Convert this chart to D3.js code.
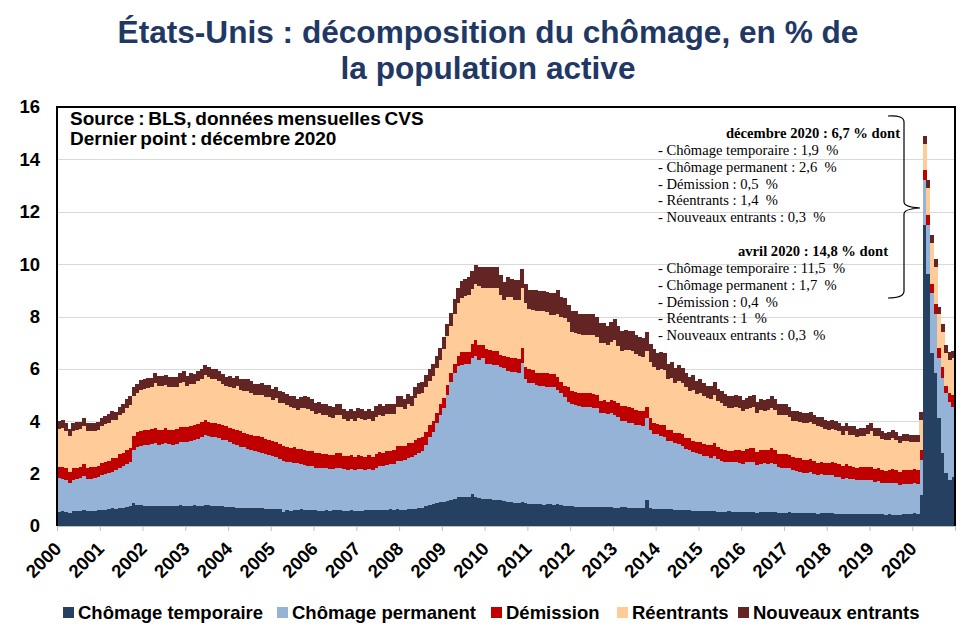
<!DOCTYPE html>
<html><head><meta charset="utf-8">
<script src="https://cdn.jsdelivr.net/npm/d3@7"></script>
<style>body{margin:0;background:#fff}</style>
</head><body><svg id="c" width="977" height="637"></svg>
<script>
const years = [2000,2001,2002,2003,2004,2005,2006,2007,2008,2009,2010,2011,2012,2013,2014,2015,2016,2017,2018,2019,2020];
const seriesLabels = ["Chômage temporaire","Chômage permanent","Démission","Réentrants","Nouveaux entrants"];
const seriesColors = ["#254061","#95B3D7","#C00000","#FFCC99","#632523"];
const yTicks = [0,2,4,6,8,10,12,14,16];

const temporaire = [
0.55,0.56,0.54,0.50,0.56,0.57,0.58,0.60,0.56,0.57,0.58,0.60,
0.62,0.62,0.64,0.68,0.66,0.70,0.70,0.74,0.76,0.88,0.82,0.80,
0.78,0.76,0.78,0.77,0.75,0.76,0.78,0.77,0.76,0.78,0.80,0.77,
0.77,0.78,0.79,0.76,0.78,0.82,0.80,0.78,0.77,0.76,0.75,0.74,
0.72,0.72,0.70,0.70,0.69,0.70,0.68,0.68,0.67,0.68,0.65,0.66,
0.66,0.66,0.64,0.55,0.60,0.58,0.62,0.62,0.64,0.62,0.60,0.60,
0.60,0.58,0.58,0.60,0.57,0.60,0.61,0.60,0.58,0.59,0.60,0.58,
0.58,0.59,0.60,0.62,0.60,0.61,0.62,0.62,0.63,0.64,0.62,0.65,
0.62,0.63,0.65,0.66,0.66,0.67,0.67,0.75,0.80,0.85,0.88,0.93,
0.93,0.95,1.00,1.05,1.10,1.12,1.12,1.10,1.22,1.10,1.08,1.05,
1.03,1.02,1.00,0.98,1.00,0.95,0.92,0.90,0.88,0.88,0.92,0.86,
0.85,0.84,0.85,0.85,0.82,0.85,0.84,0.82,0.84,0.80,0.78,0.76,
0.75,0.74,0.74,0.73,0.72,0.74,0.72,0.72,0.71,0.72,0.73,0.72,
0.70,0.70,0.72,0.72,0.70,0.69,0.68,0.68,0.67,0.99,0.67,0.66,
0.66,0.65,0.65,0.64,0.64,0.62,0.63,0.62,0.60,0.60,0.59,0.58,
0.58,0.57,0.58,0.56,0.57,0.55,0.55,0.54,0.56,0.55,0.54,0.54,
0.53,0.55,0.54,0.52,0.51,0.52,0.55,0.53,0.52,0.52,0.50,0.51,
0.50,0.52,0.51,0.49,0.50,0.48,0.49,0.48,0.48,0.47,0.48,0.49,
0.48,0.49,0.47,0.47,0.46,0.47,0.46,0.47,0.45,0.46,0.46,0.45,
0.45,0.44,0.45,0.44,0.43,0.44,0.42,0.43,0.42,0.44,0.45,0.46,
0.48,0.47,1.20,11.50,9.64,6.59,5.83,4.12,2.78,2.01,1.76,1.88];

const permanent = [
1.27,1.25,1.22,1.14,1.20,1.22,1.24,1.30,1.22,1.24,1.27,1.28,
1.33,1.36,1.38,1.40,1.46,1.52,1.58,1.62,1.70,2.02,2.20,2.26,
2.30,2.33,2.34,2.40,2.36,2.36,2.38,2.35,2.34,2.36,2.40,2.44,
2.45,2.47,2.50,2.58,2.62,2.65,2.62,2.62,2.61,2.59,2.55,2.54,
2.48,2.43,2.40,2.33,2.31,2.25,2.24,2.20,2.17,2.12,2.10,2.04,
2.00,1.96,1.92,1.93,1.86,1.85,1.80,1.77,1.72,1.72,1.70,1.68,
1.62,1.64,1.63,1.60,1.60,1.58,1.62,1.60,1.58,1.55,1.57,1.55,
1.60,1.58,1.55,1.57,1.55,1.62,1.68,1.66,1.70,1.72,1.75,1.85,
1.88,1.89,1.95,1.96,2.04,2.11,2.18,2.35,2.60,2.75,3.04,3.31,
3.57,4.05,4.50,4.78,5.00,5.03,5.06,5.08,5.18,5.39,5.27,5.35,
5.17,5.16,5.15,5.17,5.08,5.07,5.00,4.99,5.00,4.97,5.29,4.76,
4.62,4.61,4.53,4.51,4.52,4.47,4.48,4.48,4.35,4.26,4.16,3.99,
3.90,3.88,3.85,3.82,3.84,3.82,3.80,3.78,3.62,3.60,3.55,3.58,
3.55,3.45,3.30,3.28,3.25,3.25,3.18,3.17,3.15,3.12,3.00,2.85,
2.85,2.80,2.75,2.62,2.60,2.55,2.50,2.45,2.35,2.30,2.25,2.20,
2.18,2.12,2.08,2.05,2.10,2.00,1.95,1.92,1.90,1.88,1.90,1.86,
1.85,1.88,1.90,1.92,1.82,1.85,1.84,1.82,1.88,1.85,1.75,1.72,
1.72,1.70,1.62,1.60,1.58,1.55,1.55,1.57,1.52,1.48,1.50,1.45,
1.45,1.46,1.42,1.42,1.35,1.38,1.34,1.32,1.30,1.30,1.28,1.30,
1.30,1.25,1.25,1.22,1.20,1.22,1.24,1.20,1.15,1.18,1.15,1.15,
1.15,1.15,1.33,1.70,1.87,2.29,2.26,2.29,2.86,3.05,2.99,2.65];

const demission = [
0.44,0.45,0.46,0.44,0.46,0.44,0.45,0.47,0.45,0.44,0.42,0.43,
0.45,0.46,0.48,0.50,0.49,0.52,0.50,0.53,0.52,0.55,0.56,0.58,
0.58,0.56,0.57,0.58,0.57,0.56,0.57,0.55,0.56,0.55,0.57,0.58,
0.56,0.57,0.55,0.57,0.56,0.58,0.56,0.55,0.56,0.55,0.54,0.52,
0.55,0.56,0.58,0.58,0.57,0.58,0.56,0.57,0.58,0.60,0.58,0.57,
0.58,0.60,0.57,0.58,0.57,0.56,0.58,0.55,0.58,0.57,0.56,0.58,
0.56,0.58,0.55,0.56,0.55,0.54,0.55,0.57,0.53,0.52,0.53,0.52,
0.52,0.52,0.50,0.51,0.50,0.52,0.53,0.52,0.52,0.51,0.52,0.55,
0.55,0.54,0.56,0.55,0.58,0.57,0.56,0.50,0.45,0.42,0.40,0.40,
0.40,0.38,0.35,0.35,0.38,0.50,0.47,0.48,0.55,0.60,0.55,0.50,
0.55,0.55,0.55,0.55,0.45,0.47,0.52,0.54,0.52,0.53,0.57,0.46,
0.51,0.52,0.48,0.50,0.52,0.52,0.48,0.50,0.51,0.45,0.42,0.56,
0.50,0.48,0.50,0.52,0.50,0.52,0.52,0.50,0.46,0.48,0.45,0.50,
0.52,0.55,0.58,0.60,0.60,0.58,0.58,0.56,0.58,0.45,0.45,0.42,
0.40,0.42,0.45,0.42,0.44,0.40,0.42,0.45,0.42,0.45,0.42,0.43,
0.45,0.46,0.44,0.48,0.50,0.45,0.44,0.45,0.42,0.44,0.48,0.50,
0.50,0.52,0.52,0.55,0.50,0.52,0.50,0.55,0.56,0.52,0.50,0.52,
0.52,0.48,0.50,0.52,0.50,0.50,0.48,0.50,0.50,0.47,0.45,0.48,
0.48,0.50,0.50,0.48,0.48,0.52,0.50,0.48,0.46,0.48,0.50,0.52,
0.52,0.48,0.50,0.48,0.48,0.47,0.50,0.50,0.48,0.50,0.52,0.51,
0.53,0.52,0.39,0.40,0.38,0.38,0.38,0.38,0.44,0.28,0.31,0.47];

const reentrants = [
1.45,1.48,1.42,1.34,1.40,1.44,1.42,1.46,1.40,1.38,1.36,1.35,
1.42,1.45,1.45,1.48,1.44,1.48,1.55,1.62,1.65,1.52,1.50,1.55,
1.58,1.62,1.60,1.70,1.68,1.66,1.64,1.63,1.65,1.62,1.68,1.72,
1.58,1.62,1.60,1.62,1.66,1.72,1.70,1.66,1.67,1.64,1.57,1.53,
1.56,1.55,1.65,1.58,1.60,1.62,1.60,1.55,1.57,1.62,1.60,1.65,
1.58,1.65,1.58,1.62,1.58,1.55,1.52,1.50,1.58,1.60,1.62,1.55,
1.48,1.52,1.47,1.47,1.45,1.42,1.45,1.45,1.40,1.35,1.38,1.35,
1.42,1.40,1.38,1.40,1.37,1.42,1.42,1.40,1.42,1.40,1.40,1.50,
1.50,1.41,1.49,1.40,1.60,1.68,1.67,1.71,1.70,1.72,1.72,1.68,
1.85,1.87,1.80,1.92,2.02,2.05,2.12,2.16,2.10,2.16,2.25,2.20,
2.35,2.35,2.40,2.40,2.29,2.14,2.30,2.30,2.24,2.26,2.29,2.42,
2.29,2.28,2.34,2.34,2.34,2.34,2.25,2.25,2.40,2.48,2.57,2.49,
2.25,2.28,2.23,2.23,2.24,2.22,2.24,2.22,2.21,2.19,2.18,2.22,
2.33,2.17,2.09,2.13,2.16,2.18,2.12,2.07,2.06,2.14,2.13,2.14,
2.04,2.12,2.11,1.92,1.98,1.88,2.00,1.95,1.93,1.80,1.95,1.82,
1.87,1.80,1.77,1.76,1.83,1.78,1.74,1.69,1.63,1.63,1.64,1.62,
1.50,1.52,1.55,1.57,1.50,1.53,1.49,1.53,1.55,1.54,1.50,1.50,
1.51,1.45,1.39,1.41,1.40,1.40,1.40,1.43,1.39,1.38,1.36,1.29,
1.25,1.26,1.28,1.24,1.19,1.25,1.18,1.21,1.18,1.19,1.20,1.26,
1.36,1.27,1.25,1.18,1.16,1.16,1.19,1.16,1.13,1.13,1.12,1.10,
1.05,1.06,1.14,1.00,1.00,1.53,1.43,1.30,1.34,1.27,1.28,1.40];

const nouveaux = [
0.30,0.30,0.31,0.28,0.30,0.30,0.28,0.30,0.30,0.29,0.30,0.30,
0.30,0.30,0.31,0.32,0.30,0.33,0.32,0.34,0.34,0.33,0.35,0.38,
0.38,0.37,0.38,0.40,0.38,0.40,0.38,0.38,0.39,0.38,0.40,0.42,
0.38,0.40,0.38,0.40,0.38,0.38,0.40,0.39,0.38,0.38,0.38,0.36,
0.40,0.40,0.41,0.42,0.44,0.45,0.44,0.42,0.43,0.44,0.44,0.45,
0.42,0.45,0.44,0.45,0.44,0.43,0.43,0.41,0.42,0.44,0.45,0.44,
0.42,0.43,0.42,0.42,0.40,0.41,0.42,0.43,0.39,0.38,0.40,0.38,
0.40,0.38,0.37,0.38,0.36,0.40,0.41,0.38,0.40,0.39,0.38,0.42,
0.40,0.38,0.40,0.38,0.42,0.42,0.42,0.44,0.45,0.46,0.46,0.48,
0.45,0.45,0.50,0.55,0.60,0.65,0.68,0.68,0.70,0.70,0.75,0.78,
0.80,0.80,0.80,0.78,0.76,0.70,0.76,0.72,0.76,0.74,0.76,0.76,
0.76,0.77,0.80,0.78,0.78,0.76,0.85,0.85,0.90,0.76,0.76,0.65,
0.80,0.82,0.78,0.80,0.80,0.80,0.82,0.78,0.75,0.76,0.74,0.78,
0.80,0.78,0.76,0.75,0.74,0.75,0.74,0.72,0.72,0.72,0.70,0.68,
0.65,0.66,0.64,0.60,0.62,0.60,0.60,0.58,0.55,0.55,0.54,0.52,
0.52,0.50,0.48,0.50,0.50,0.47,0.47,0.45,0.44,0.45,0.44,0.43,
0.42,0.43,0.44,0.44,0.42,0.43,0.42,0.42,0.44,0.42,0.40,0.40,
0.40,0.40,0.38,0.38,0.37,0.37,0.38,0.37,0.36,0.35,0.36,0.34,
0.34,0.34,0.33,0.34,0.32,0.33,0.32,0.32,0.31,0.32,0.31,0.32,
0.32,0.31,0.30,0.30,0.28,0.29,0.30,0.29,0.27,0.27,0.26,0.26,
0.26,0.27,0.29,0.30,0.31,0.32,0.28,0.28,0.29,0.32,0.31,0.29];

const annotDec = ["- Chômage temporaire : 1,9 \u00a0%","- Chômage permanent : 2,6 \u00a0%","- Démission : 0,5 \u00a0%","- Réentrants : 1,4 \u00a0%","- Nouveaux entrants : 0,3 \u00a0%"];
const annotApr = ["- Chômage temporaire : 11,5 \u00a0%","- Chômage permanent : 1,7 \u00a0%","- Démission : 0,4 \u00a0%","- Réentrants : 1 \u00a0%","- Nouveaux entrants : 0,3 \u00a0%"];

// ---------- build ----------
const months = [];
years.forEach(y => { for (let m = 1; m <= 12; m++) months.push(y + "-" + String(m).padStart(2, "0")); });
const keys = ["temporaire","permanent","demission","reentrants","nouveaux"];
const src = {temporaire, permanent, demission, reentrants, nouveaux};
const table = months.map((m, i) => { const o = {i, m}; keys.forEach(k => o[k] = src[k][i]); return o; });
const stacked = d3.stack().keys(keys)(table);

const svg = d3.select("#c");
svg.append("rect").attr("width",977).attr("height",637).attr("fill","#fff");

const L = 57, R = 955, T = 107, B = 526;
const x = d3.scaleLinear().domain([0, months.length]).range([L, R]);
const y = d3.scaleLinear().domain([0, 16]).range([B, T]);
const sans = "'Liberation Sans', Arial, sans-serif";
const serif = "'Liberation Serif', 'Times New Roman', serif";

// title
const title = svg.append("text").attr("text-anchor","middle").attr("font-family",sans)
  .attr("font-weight","bold").attr("font-size",31.6).attr("fill","#1F3864");
title.append("tspan").attr("x",488).attr("y",43).text("États-Unis : décomposition du chômage, en % de");
title.append("tspan").attr("x",488).attr("y",79).text("la population active");

// gridlines
svg.append("g").selectAll("line").data(yTicks.filter(d => d > 0 && d < 16)).join("line")
  .attr("x1", L).attr("x2", R).attr("y1", d => Math.round(y(d)) + 0.5).attr("y2", d => Math.round(y(d)) + 0.5)
  .attr("stroke", "#d9d9d9").attr("stroke-width", 1);

// bars
svg.append("g").selectAll("g").data(stacked).join("g")
  .attr("fill", (d, i) => seriesColors[i])
  .selectAll("rect").data(d => d).join("rect")
  .attr("x", d => x(d.data.i))
  .attr("width", d => x(d.data.i + 1) - x(d.data.i) + 0.4)
  .attr("y", d => y(d[1]))
  .attr("height", d => y(d[0]) - y(d[1]))
  .attr("shape-rendering", "crispEdges");

// x axis
const xAxis = svg.append("g").attr("transform", `translate(0,${B})`)
  .call(d3.axisBottom(x).tickValues(d3.range(0, months.length + 1, 12))
    .tickSize(5).tickFormat(d => d < months.length ? String(years[d / 12]) : ""));
xAxis.select(".domain").attr("stroke", "#bfbfbf");
xAxis.selectAll(".tick line").attr("stroke", "#bfbfbf");
xAxis.selectAll(".tick text").attr("font-family", sans).attr("font-weight", "bold").attr("font-size", 18.5)
  .attr("fill", "#000").attr("text-anchor", "end").attr("dy", 0).attr("y", 0)
  .attr("transform", "translate(5,24) rotate(-45)");

// y axis
const yAxis = svg.append("g").attr("transform", `translate(${L},0)`)
  .call(d3.axisLeft(y).tickValues(yTicks).tickSize(0).tickPadding(17).tickFormat(d3.format("d")));
yAxis.select(".domain").remove();
yAxis.selectAll(".tick text").attr("font-family", sans).attr("font-weight", "bold").attr("font-size", 18.5).attr("fill", "#000");

// frame
svg.append("path").attr("d", `M${L},${B}V${T}H${R}V${B}`).attr("fill", "none").attr("stroke", "#000").attr("stroke-width", 2);

// source note
const note = svg.append("text").attr("font-family", sans).attr("font-weight", "bold").attr("font-size", 19)
  .attr("word-spacing", -1.5).attr("fill", "#000");
note.append("tspan").attr("x", 70).attr("y", 125).text("Source : BLS, données mensuelles CVS");
note.append("tspan").attr("x", 70).attr("y", 145).text("Dernier point : décembre 2020");

// annotations
const ann = svg.append("g").attr("font-family", serif).attr("font-size", 14.6).attr("fill", "#000");
ann.append("text").attr("x", 900).attr("y", 138).attr("text-anchor", "end").attr("font-weight", "bold").text("décembre 2020 : 6,7 % dont");
annotDec.forEach((t, i) => ann.append("text").attr("x", 658).attr("y", 155 + i * 16.8).text(t));
ann.append("text").attr("x", 888).attr("y", 256).attr("text-anchor", "end").attr("font-weight", "bold").text("avril 2020 : 14,8 % dont");
annotApr.forEach((t, i) => ann.append("text").attr("x", 658).attr("y", 273 + i * 16.8).text(t));

// brace
svg.append("path")
  .attr("d", "M888,116 Q904,115 904,122 V202 Q904,207 920,208 Q904,209 904,214 V291 Q904,298 888,298")
  .attr("fill", "none").attr("stroke", "#000").attr("stroke-width", 1.2);

// legend
const legX = [63, 277, 491, 617, 738];
const leg = svg.append("g").selectAll("g").data(seriesLabels).join("g")
  .attr("transform", (d, i) => `translate(${legX[i]},0)`);
leg.append("rect").attr("x", 0).attr("y", 607).attr("width", 11).attr("height", 11).attr("fill", (d, i) => seriesColors[i]);
leg.append("text").attr("x", 15).attr("y", 619).attr("font-family", sans).attr("font-weight", "bold")
  .attr("font-size", 18.5).attr("fill", "#000").text(d => d);
</script></body></html>
